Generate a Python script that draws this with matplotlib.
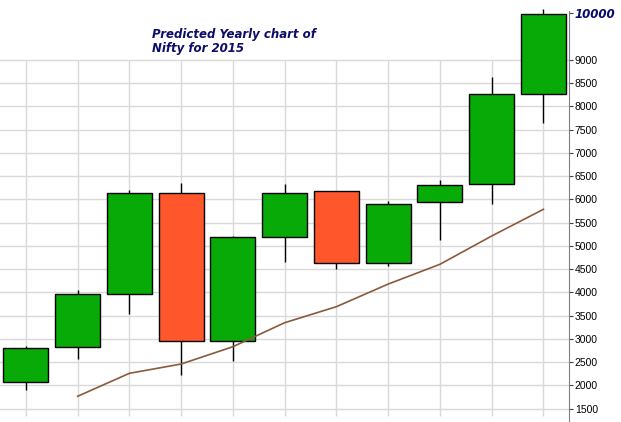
import numpy as np
import matplotlib
matplotlib.use("Agg")
import matplotlib.pyplot as plt

# yearly candles
opens  = [2068, 2820, 3960, 6132, 2949, 5186, 6175, 4627, 5939, 6326, 8261]
highs  = [2842, 4053, 6203, 6360, 5208, 6338, 6175, 5967, 6418, 8633, 10096]
lows   = [1896, 2575, 3543, 2231, 2532, 4661, 4511, 4575, 5122, 5909, 7650]
closes = [2812, 3960, 6132, 2949, 5186, 6132, 4627, 5896, 6304, 8274, 9982]
# moving average line (starts at 2nd candle)
ma_vals = [1767, 2261, 2461, 2833, 3349, 3694, 4180, 4605, 5214, 5788]
yticks = list(range(1500, 9001, 500))

GREEN = "#08aa08"
RED = "#ff562c"
NAVY = "#0c0c6a"

fig = plt.figure(figsize=(6.21, 4.22), dpi=100)
ax = fig.add_axes([0, 0, 569.3 / 621, 1])
x = np.arange(len(opens))

# grid only up to 9000 like the original
for v in yticks:
    ax.axhline(v, color="#d9d9d9", lw=1, zorder=0)
ax.vlines(x, 1340, 9000, color="#d9d9d9", lw=1, zorder=0)

ax.vlines(x, lows, highs, color="black", lw=1, zorder=2)
up = np.array(closes) >= np.array(opens)
colors = [GREEN if u else RED for u in up]
bottoms = np.minimum(opens, closes)
heights = np.abs(np.array(closes) - np.array(opens))
ax.bar(x, heights, bottom=bottoms, width=0.87, color=colors,
       edgecolor="black", linewidth=1, zorder=3)

ax.plot(x[1:], ma_vals, color="#8b5a3c", lw=1.2, zorder=4)

ax.set_xlim(-0.5, 10.5)
ax.set_ylim(1214, 10289)
for s in ["top", "left", "bottom"]:
    ax.spines[s].set_visible(False)
ax.spines["right"].set_color("#808080")
ax.spines["right"].set_bounds(1214, 10050)
ax.set_xticks([])
ax.yaxis.tick_right()
ax.set_yticks(yticks + [10000])
labels = [str(v) for v in yticks] + ["10000"]
ax.set_yticklabels(labels, fontsize=7.5, family="Liberation Sans")
ax.tick_params(axis="y", length=3, width=0.8, color="#404040", pad=1)
lab = ax.get_yticklabels()[-1]
lab.set_fontfamily("DejaVu Sans")
lab.set_fontweight("bold")
lab.set_fontstyle("italic")
lab.set_fontsize(8.5)
lab.set_color(NAVY)

fig.text(152 / 621, 1 - 28 / 422, "Predicted Yearly chart of\nNifty for 2015",
         ha="left", va="top", fontsize=8.5, fontweight="bold", style="italic",
         color=NAVY, linespacing=1.1)

fig.savefig("out.png", dpi=100)
